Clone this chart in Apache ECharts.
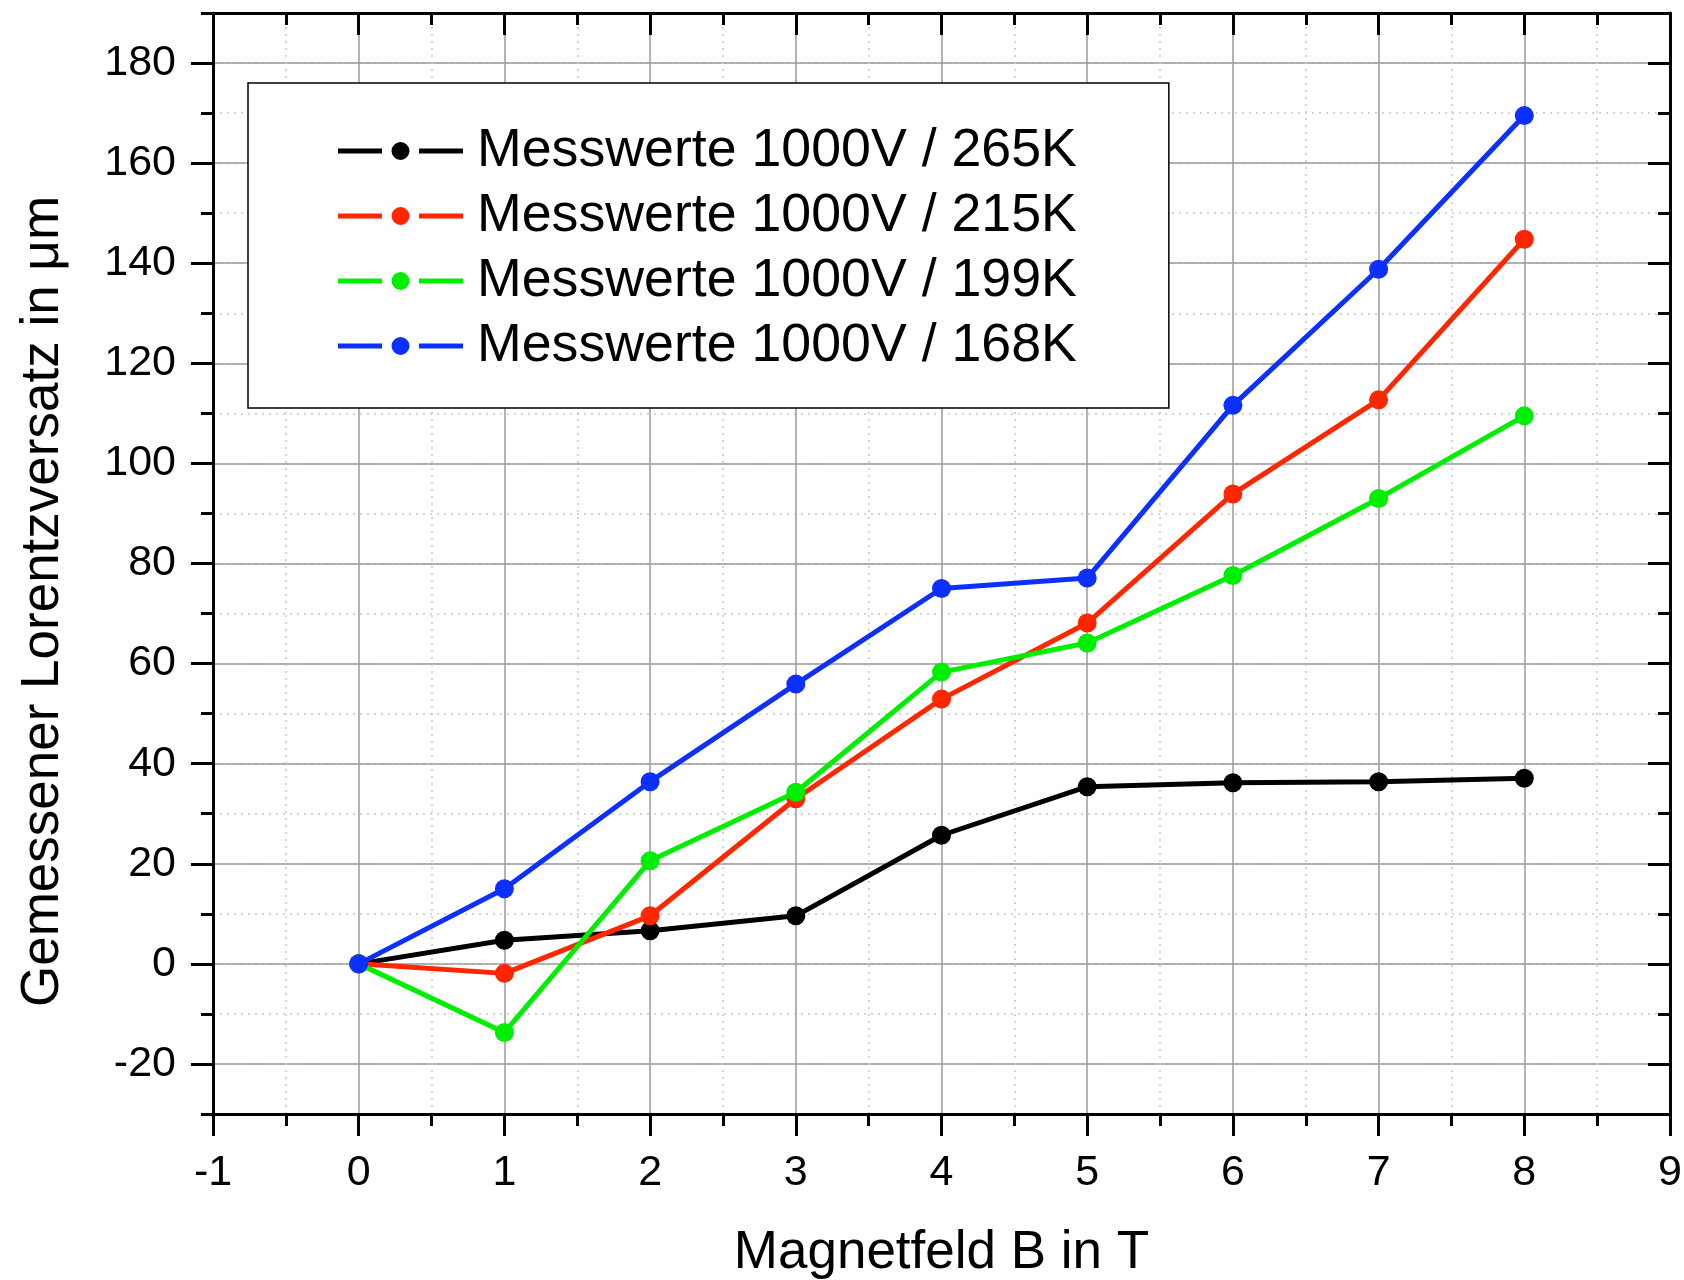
<!DOCTYPE html>
<html>
<head>
<meta charset="utf-8">
<script src="https://cdn.jsdelivr.net/npm/echarts@6/dist/echarts.min.js"></script>
<style>
html,body{margin:0;padding:0;background:#fff;}
#chart{width:1684px;height:1280px;}
</style>
</head>
<body>
<div id="chart"></div>
<script>
// ---- data ----
const fieldB = [0, 1, 2, 3, 4, 5, 6, 7, 8];
const seriesNames = [
  'Messwerte 1000V / 265K',
  'Messwerte 1000V / 215K',
  'Messwerte 1000V / 199K',
  'Messwerte 1000V / 168K'
];
const values265K = [0, 4.7, 6.6, 9.6, 25.7, 35.4, 36.2, 36.4, 37.1];
const values215K = [0, -1.9, 9.6, 33.0, 52.9, 68.1, 93.9, 112.7, 144.8];
const values199K = [0, -13.7, 20.6, 34.3, 58.3, 64.1, 77.6, 93.0, 109.5];
const values168K = [0, 15.0, 36.4, 55.9, 75.0, 77.1, 111.6, 138.8, 169.5];
const seriesColors = ['#000000', '#ff2600', '#00ee00', '#0b30ff'];
const xName = 'Magnetfeld B in T';
const yName = 'Gemessener Lorentzversatz in \u03bcm';

const allValues = [values265K, values215K, values199K, values168K];
const FONT = "'Liberation Sans', Arial, sans-serif";
// legend icon: line segment - dot - line segment
const LEGEND_ICON = 'path://M0,6.5 L44,6.5 L44,11.5 L0,11.5 Z M53.5,9 A9,9 0 1,0 71.5,9 A9,9 0 1,0 53.5,9 Z M81,6.5 L125,6.5 L125,11.5 L81,11.5 Z';

const chart = echarts.init(document.getElementById('chart'), null, {renderer: 'canvas'});

const axisLineStyle = {show: true, onZero: false, lineStyle: {color: '#000', width: 3}};
const yMin = -30, yMax = 190;

const option = {
  animation: false,
  backgroundColor: '#fff',
  grid: {left: 213, right: 14, top: 13, bottom: 166, outerBoundsMode: 'none', containLabel: false},
  legend: {
    orient: 'vertical',
    left: 248,
    top: 83,
    padding: [41, 92, 35, 90],
    itemWidth: 125,
    itemHeight: 18,
    itemGap: 11,
    icon: LEGEND_ICON,
    backgroundColor: '#fff',
    borderColor: '#000',
    borderWidth: 1.5,
    borderRadius: 0,
    data: seriesNames,
    textStyle: {fontSize: 53.7, fontFamily: FONT, color: '#000', padding: [0, 0, 0, 9]}
  },
  xAxis: [
    {
      type: 'value', position: 'bottom', min: -1, max: 9, interval: 1,
      name: xName, nameLocation: 'middle', nameGap: 113,
      nameTextStyle: {fontSize: 53, fontFamily: FONT, color: '#000'},
      axisLine: axisLineStyle,
      axisTick: {show: true, length: 22, lineStyle: {color: '#000', width: 3}},
      minorTick: {show: true, splitNumber: 2, length: 12, lineStyle: {color: '#000', width: 3}},
      axisLabel: {fontSize: 43, fontFamily: FONT, color: '#000', margin: 38},
      splitLine: {show: true, lineStyle: {color: '#9a9a9a', width: 1.5}},
      minorSplitLine: {show: true, lineStyle: {color: '#c8c8c8', width: 1.5, type: [2, 5]}}
    },
    {
      type: 'value', position: 'top', min: -1, max: 9, interval: 1,
      axisLine: axisLineStyle,
      axisTick: {show: true, inside: true, length: 22, lineStyle: {color: '#000', width: 3}},
      minorTick: {show: true, splitNumber: 2, length: 12, lineStyle: {color: '#000', width: 3}},
      axisLabel: {show: false},
      splitLine: {show: false}
    }
  ],
  yAxis: [
    {
      type: 'value', position: 'left', min: yMin, max: yMax, interval: 10,
      axisLine: axisLineStyle,
      axisTick: {show: true, length: 12, lineStyle: {color: '#000', width: 3}},
      axisLabel: {show: false},
      splitLine: {show: true, lineStyle: {color: '#c8c8c8', width: 1.5, type: [2, 5]}}
    },
    {
      type: 'value', position: 'left', min: yMin, max: yMax, minInterval: 20, maxInterval: 20, splitNumber: 11,
      name: yName, nameLocation: 'middle', nameGap: 143,
      nameTextStyle: {fontSize: 53, fontFamily: FONT, color: '#000', padding: [0, 76, 0, 0]},
      axisLine: {show: false, onZero: false},
      axisTick: {show: true, length: 22, lineStyle: {color: '#000', width: 3}},
      axisLabel: {fontSize: 43, fontFamily: FONT, color: '#000', margin: 37, showMinLabel: false, showMaxLabel: false},
      splitLine: {show: true, lineStyle: {color: '#9a9a9a', width: 1.5}}
    },
    {
      type: 'value', position: 'right', min: yMin, max: yMax, interval: 10,
      axisLine: axisLineStyle,
      axisTick: {show: true, inside: true, length: 12, lineStyle: {color: '#000', width: 3}},
      axisLabel: {show: false},
      splitLine: {show: false}
    },
    {
      type: 'value', position: 'right', min: yMin, max: yMax, minInterval: 20, maxInterval: 20, splitNumber: 11,
      axisLine: {show: false, onZero: false},
      axisTick: {show: true, inside: true, length: 22, lineStyle: {color: '#000', width: 3}},
      axisLabel: {show: false},
      splitLine: {show: false}
    }
  ],
  series: seriesNames.map((name, i) => ({
    name: name,
    type: 'line',
    xAxisIndex: 0,
    yAxisIndex: 1,
    data: fieldB.map((b, j) => [b, allValues[i][j]]),
    symbol: 'circle',
    symbolSize: 19,
    showSymbol: true,
    color: seriesColors[i],
    itemStyle: {color: seriesColors[i]},
    lineStyle: {color: seriesColors[i], width: 5},
    z: 3 + i
  }))
};
chart.setOption(option);
</script>
</body>
</html>
